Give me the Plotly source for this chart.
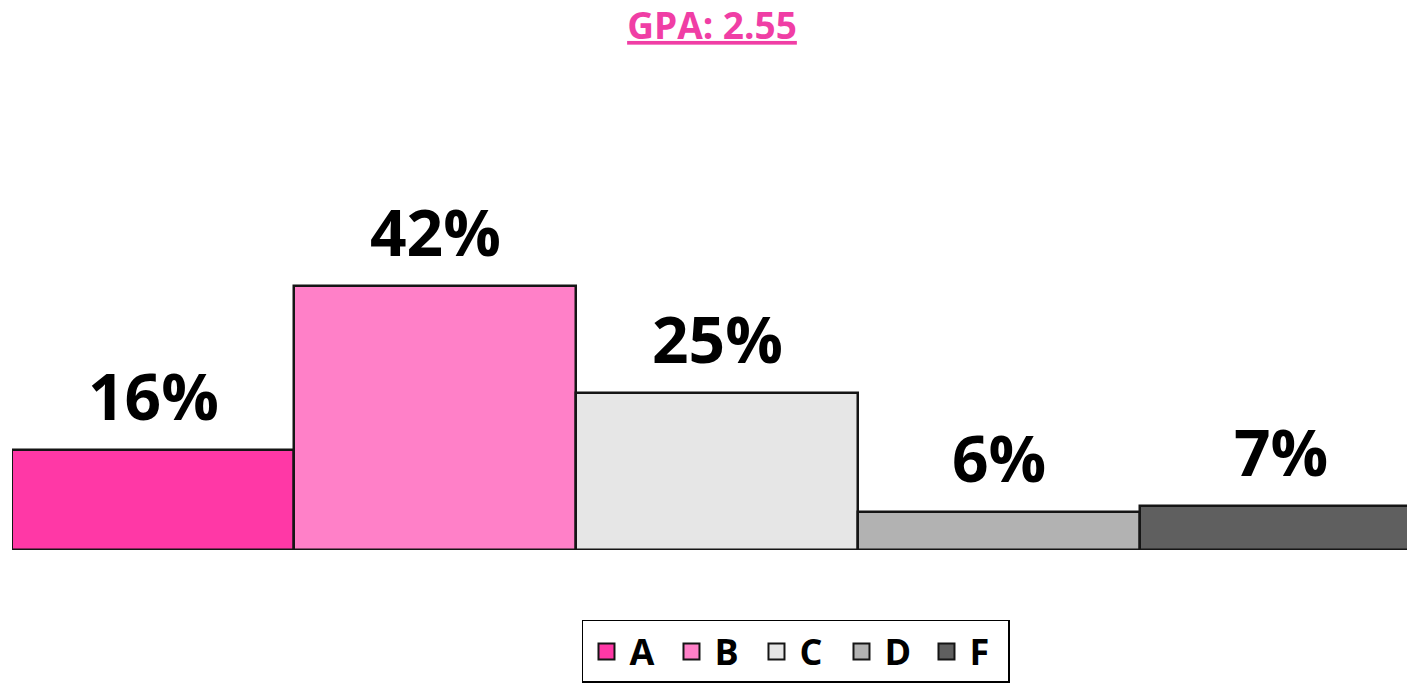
import plotly.graph_objects as go

grades = ["A", "B", "C", "D", "F"]
percents = [16, 42, 25, 6, 7]
colors = ["#FF38A6", "#FF80C8", "#E6E6E6", "#B2B2B2", "#5F5F5F"]
title_text = "GPA: 2.55"

fig = go.Figure()
for i, (g, p, c) in enumerate(zip(grades, percents, colors)):
    fig.add_trace(go.Bar(
        x=[i], y=[p], name=g, width=1, showlegend=False,
        marker=dict(color=c, line=dict(color="#151515", width=2.5)),
        hoverinfo="skip",
    ))
    fig.add_annotation(
        x=i, y=p, text=f"<b>{p}%</b>", showarrow=False,
        yanchor="bottom", yshift=9,
        font=dict(family="Open Sans", size=64, color="#000000"),
    )
# legend entries with larger square swatches
for g, c in zip(grades, colors):
    fig.add_trace(go.Scatter(
        x=[None], y=[None], name=g, mode="markers",
        marker=dict(symbol="square", size=16, color=c,
                    line=dict(color="#151515", width=2)),
        hoverinfo="skip",
    ))

fig.update_layout(
    width=1407, height=686,
    paper_bgcolor="white", plot_bgcolor="white",
    margin=dict(l=12, r=0, t=48, b=136),
    barmode="overlay", bargap=0,
    title=dict(
        text=f"<b><u>{title_text}</u></b>",
        x=712 / 1407, xanchor="center", y=1 - 26 / 686, yanchor="middle",
        font=dict(family="Open Sans", size=37, color="#F03EA5"),
    ),
    xaxis=dict(range=[-0.5, -0.5 + 1395 / 282], visible=False, fixedrange=True),
    yaxis=dict(range=[0, 80], visible=False, fixedrange=True),
    showlegend=True,
    legend=dict(
        orientation="h", x=0.562, xanchor="center", y=-0.1394, yanchor="top",
        bordercolor="#000000", borderwidth=1.5, itemsizing="trace",
        font=dict(family="Open Sans", size=36, color="#000000", weight="bold"),
        entrywidth=34, entrywidthmode="pixels", itemwidth=36,
    ),
)

fig.write_html(
    "out.html",
    config={"displayModeBar": False},
    post_script="document.body.style.margin='0';document.body.style.overflow='hidden';",
)
